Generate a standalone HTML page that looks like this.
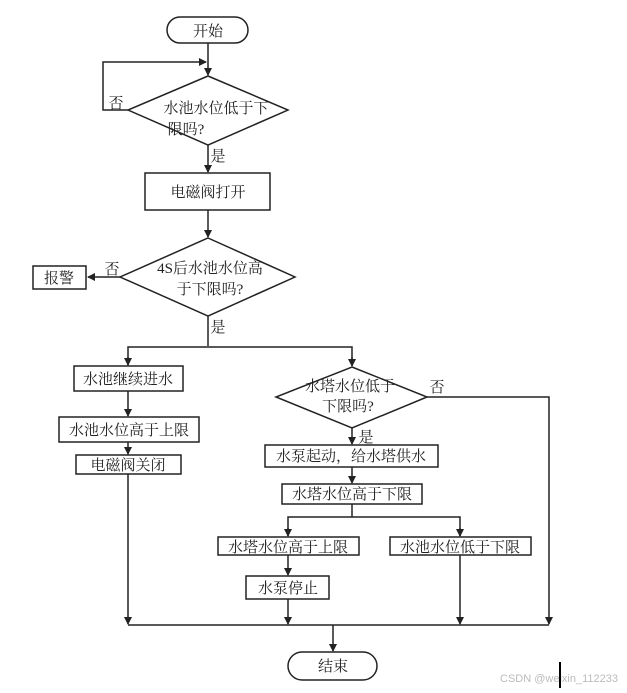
<!DOCTYPE html>
<html><head><meta charset="utf-8"><style>
body{margin:0;background:#fff}
svg text{font-family:"Liberation Serif","Noto Serif CJK SC",serif;font-size:15px;fill:#222}
</style></head><body>
<svg width="627" height="688" viewBox="0 0 627 688" xmlns="http://www.w3.org/2000/svg">
<defs><marker id="a" markerWidth="8" markerHeight="8" refX="7" refY="4" orient="auto" markerUnits="userSpaceOnUse"><path d="M0,0 L8,4 L0,8 z" fill="#222"/></marker></defs>
<g stroke="#222" stroke-width="1.5" fill="none">
<rect x="167" y="17" width="81" height="26" rx="13" fill="#fff"/>
<line x1="208" y1="43" x2="208" y2="75" marker-end="url(#a)"/>
<polygon points="208,76 288,110 208,145 128,110" fill="#fff"/>
<polyline points="128,110 103,110 103,62 206,62" marker-end="url(#a)"/>
<line x1="208" y1="145" x2="208" y2="172" marker-end="url(#a)"/>
<rect x="145" y="173" width="125" height="37" fill="#fff"/>
<line x1="208" y1="210" x2="208" y2="237" marker-end="url(#a)"/>
<polygon points="208,238 295,277 208,316 120,277" fill="#fff"/>
<line x1="120" y1="277" x2="88" y2="277" marker-end="url(#a)"/>
<rect x="33" y="266" width="53" height="23" fill="#fff"/>
<line x1="208" y1="316" x2="208" y2="346"/>
<polyline points="128,365 128,347 352,347 352,365"/>
<line x1="128" y1="357" x2="128" y2="365" marker-end="url(#a)"/>
<line x1="352" y1="357" x2="352" y2="366" marker-end="url(#a)"/>
<rect x="74" y="366" width="109" height="25" fill="#fff"/>
<line x1="128" y1="391" x2="128" y2="416" marker-end="url(#a)"/>
<rect x="59" y="417" width="140" height="25" fill="#fff"/>
<line x1="128" y1="442" x2="128" y2="454" marker-end="url(#a)"/>
<rect x="76" y="455" width="105" height="19" fill="#fff"/>
<line x1="128" y1="474" x2="128" y2="624" marker-end="url(#a)"/>
<polygon points="352,367 427,397 352,428 276,397" fill="#fff"/>
<polyline points="427,397 549,397 549,624" marker-end="url(#a)"/>
<line x1="352" y1="428" x2="352" y2="444" marker-end="url(#a)"/>
<rect x="265" y="445" width="173" height="22" fill="#fff"/>
<line x1="352" y1="467" x2="352" y2="483" marker-end="url(#a)"/>
<rect x="282" y="484" width="140" height="20" fill="#fff"/>
<line x1="352" y1="504" x2="352" y2="517"/>
<polyline points="288,536 288,517 460,517 460,536"/>
<line x1="288" y1="528" x2="288" y2="536" marker-end="url(#a)"/>
<line x1="460" y1="528" x2="460" y2="536" marker-end="url(#a)"/>
<rect x="218" y="537" width="141" height="18" fill="#fff"/>
<rect x="390" y="537" width="141" height="18" fill="#fff"/>
<line x1="288" y1="555" x2="288" y2="575" marker-end="url(#a)"/>
<rect x="246" y="576" width="83" height="23" fill="#fff"/>
<line x1="288" y1="599" x2="288" y2="624" marker-end="url(#a)"/>
<line x1="460" y1="555" x2="460" y2="624" marker-end="url(#a)"/>
<line x1="128" y1="625" x2="549" y2="625"/>
<line x1="333" y1="625" x2="333" y2="651" marker-end="url(#a)"/>
<rect x="288" y="652" width="89" height="28" rx="14" fill="#fff"/>
</g>
<g text-anchor="middle">
<text x="208" y="36">开始</text>
<text x="216" y="113">水池水位低于下</text>
<text x="186" y="134">限吗?</text>
<text x="116" y="108">否</text>
<text x="218" y="161">是</text>
<text x="208" y="197">电磁阀打开</text>
<text x="210" y="273">4S后水池水位高</text>
<text x="210" y="294">于下限吗?</text>
<text x="112" y="274">否</text>
<text x="59" y="283">报警</text>
<text x="218" y="332">是</text>
<text x="128" y="384">水池继续进水</text>
<text x="129" y="435">水池水位高于上限</text>
<text x="128" y="470">电磁阀关闭</text>
<text x="350" y="391">水塔水位低于</text>
<text x="348" y="411">下限吗?</text>
<text x="437" y="392">否</text>
<text x="366" y="442">是</text>
<text x="351" y="461">水泵起动，给水塔供水</text>
<text x="352" y="499">水塔水位高于下限</text>
<text x="288" y="552">水塔水位高于上限</text>
<text x="460" y="552">水池水位低于下限</text>
<text x="288" y="593">水泵停止</text>
<text x="333" y="671">结束</text>
</g>
<text x="500" y="682" style="font-family:'Liberation Sans',sans-serif;font-size:11px;fill:#bbb">CSDN @weixin_112233</text>
<rect x="559" y="662" width="2" height="26" fill="#000"/>
</svg>
</body></html>
